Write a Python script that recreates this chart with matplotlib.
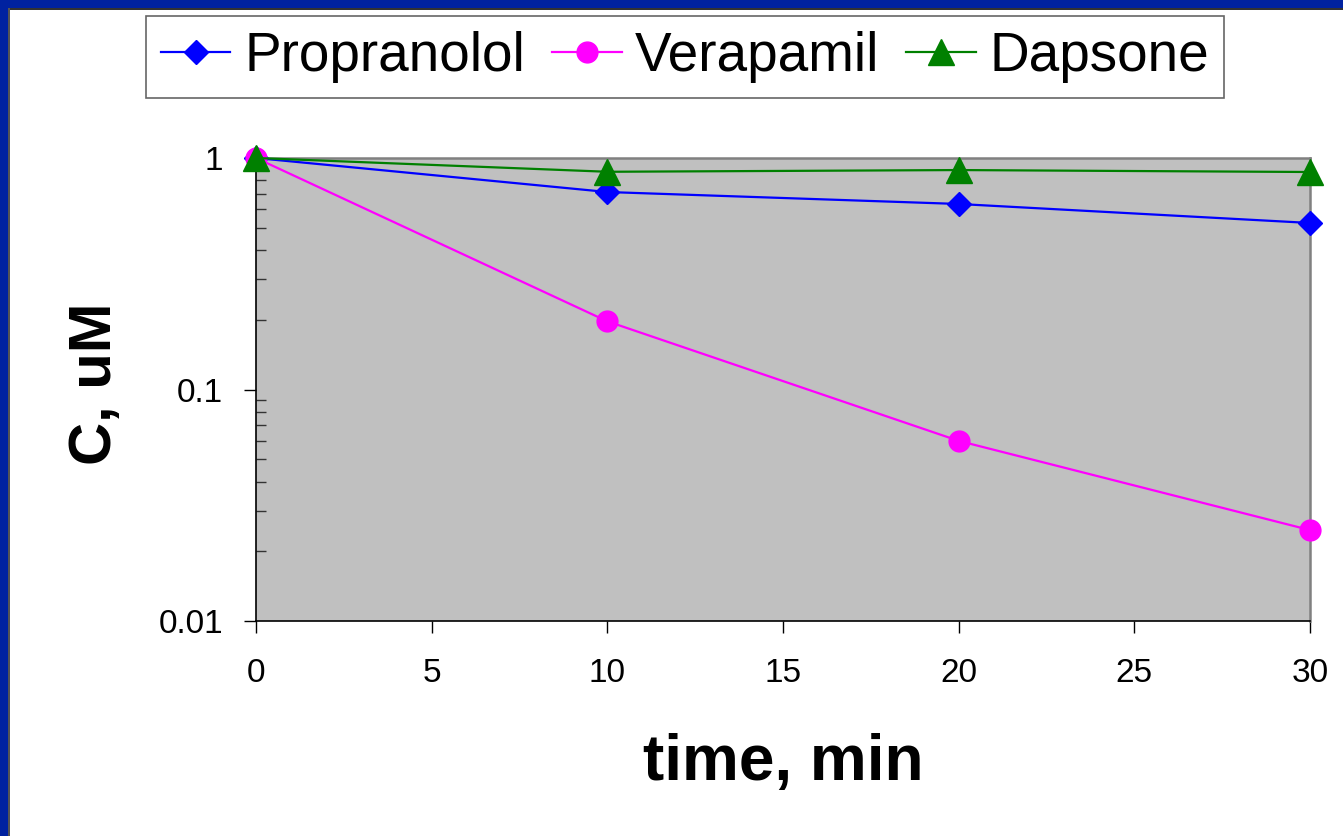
import matplotlib
matplotlib.use("Agg")
import matplotlib.pyplot as plt
from matplotlib.patches import Rectangle
from matplotlib.ticker import LogLocator, FixedLocator, NullFormatter

plt.rcParams['font.family'] = ['Liberation Sans', 'DejaVu Sans']

# Incubation times (min) and remaining concentration (uM)
time_min = [0, 10, 20, 30]
propranolol = [1.0, 0.713, 0.633, 0.524]
verapamil = [1.0, 0.197, 0.060, 0.0247]
dapsone = [1.0, 0.872, 0.887, 0.870]

x_ticks = [0, 5, 10, 15, 20, 25, 30]
y_ticks = [0.01, 0.1, 1]
y_tick_labels = ["0.01", "0.1", "1"]

W, H = 1343, 836
fig = plt.figure(figsize=(W / 100, H / 100), dpi=100)
fig.patch.set_facecolor('white')

# slide frame on the top and left edges
frame_blue = '#0022A0'
fig.patches.append(Rectangle((0, 1 - 8 / H), 1, 8 / H, transform=fig.transFigure,
                             facecolor=frame_blue, edgecolor='none', zorder=0))
fig.patches.append(Rectangle((0, 1 - 10 / H), 1, 2 / H, transform=fig.transFigure,
                             facecolor='#333333', edgecolor='none', zorder=0))
fig.patches.append(Rectangle((0, 0), 8 / W, 1, transform=fig.transFigure,
                             facecolor=frame_blue, edgecolor='none', zorder=0))
fig.patches.append(Rectangle((8 / W, 0), 2 / W, 1 - 8 / H, transform=fig.transFigure,
                             facecolor='#555555', edgecolor='none', zorder=0))

left, right, top, bottom = 256, 1310, 158, 621
ax = fig.add_axes([left / W, 1 - bottom / H, (right - left) / W, (bottom - top) / H])
ax.set_facecolor('#C0C0C0')

ax.plot(time_min, propranolol, color='#0000FF', lw=1.6, marker='D', ms=12.7,
        label='Propranolol', clip_on=False, zorder=3)
ax.plot(time_min, verapamil, color='#FF00FF', lw=1.6, marker='o', ms=15,
        label='Verapamil', clip_on=False, zorder=3)
ax.plot(time_min, dapsone, color='#008000', lw=1.6, marker='^', ms=18.5,
        label='Dapsone', clip_on=False, zorder=4)

ax.set_yscale('log')
ax.set_xlim(0, 30)
ax.set_ylim(0.01, 1)
ax.xaxis.set_major_locator(FixedLocator(x_ticks))
ax.set_xticklabels([str(t) for t in x_ticks])
ax.yaxis.set_major_locator(FixedLocator(y_ticks))
ax.set_yticklabels(y_tick_labels)
ax.yaxis.set_minor_locator(LogLocator(base=10, subs=range(2, 10)))
ax.yaxis.set_minor_formatter(NullFormatter())

ax.tick_params(axis='both', which='major', labelsize=24, direction='out',
               length=8.6, width=1, color='black')
ax.tick_params(axis='x', which='major', pad=18)
ax.tick_params(axis='y', which='major', pad=15)
ax.tick_params(axis='y', which='minor', direction='in', length=7, width=1,
               color='#333333')

for side in ('top', 'right'):
    ax.spines[side].set_color('#808080')
    ax.spines[side].set_linewidth(1.8)
for side in ('left', 'bottom'):
    ax.spines[side].set_color('black')
    ax.spines[side].set_linewidth(1.2)

fig.text(783 / W, 1 - 780 / H, 'time, min', ha='center', va='baseline',
         fontsize=46, fontweight='bold')
fig.text(96 / W, 1 - 384 / H, 'C, uM', ha='center', va='center', rotation=90,
         fontsize=43, fontweight='bold')

leg = fig.legend(loc='upper left', bbox_to_anchor=(146 / W, 1 - 16 / H), ncol=3,
                 fontsize=39.5, frameon=True, fancybox=False, handlelength=1.27,
                 handletextpad=0.25, columnspacing=0.49, borderpad=0.27,
                 borderaxespad=0)
leg.get_frame().set_edgecolor('#404040')
leg.get_frame().set_linewidth(1.2)

fig.savefig('out.png', dpi=100)
